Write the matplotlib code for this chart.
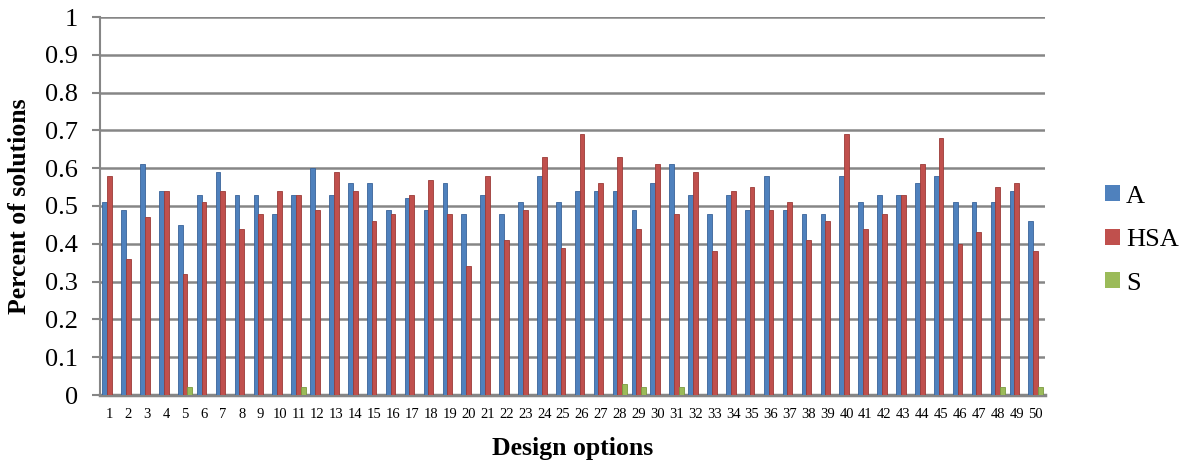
import matplotlib
matplotlib.use("Agg")
import matplotlib.pyplot as plt
from matplotlib.patches import Patch
import numpy as np

plt.rcParams['font.family'] = ['Liberation Serif', 'DejaVu Serif']

categories = [str(i) for i in range(1, 51)]
A = [0.51, 0.49, 0.61, 0.54, 0.45, 0.53, 0.59, 0.53, 0.53, 0.48,
     0.53, 0.60, 0.53, 0.56, 0.56, 0.49, 0.52, 0.49, 0.56, 0.48,
     0.53, 0.48, 0.51, 0.58, 0.51, 0.54, 0.54, 0.54, 0.49, 0.56,
     0.61, 0.53, 0.48, 0.53, 0.49, 0.58, 0.49, 0.48, 0.48, 0.58,
     0.51, 0.53, 0.53, 0.56, 0.58, 0.51, 0.51, 0.51, 0.54, 0.46]
HSA = [0.58, 0.36, 0.47, 0.54, 0.32, 0.51, 0.54, 0.44, 0.48, 0.54,
       0.53, 0.49, 0.59, 0.54, 0.46, 0.48, 0.53, 0.57, 0.48, 0.34,
       0.58, 0.41, 0.49, 0.63, 0.39, 0.69, 0.56, 0.63, 0.44, 0.61,
       0.48, 0.59, 0.38, 0.54, 0.55, 0.49, 0.51, 0.41, 0.46, 0.69,
       0.44, 0.48, 0.53, 0.61, 0.68, 0.40, 0.43, 0.55, 0.56, 0.38]
S = [0, 0, 0, 0, 0.02, 0, 0, 0, 0, 0,
     0.02, 0, 0, 0, 0, 0, 0, 0, 0, 0,
     0, 0, 0, 0, 0, 0, 0, 0.03, 0.02, 0,
     0.02, 0, 0, 0, 0, 0, 0, 0, 0, 0,
     0, 0, 0, 0, 0, 0, 0, 0.02, 0, 0.02]
y_ticks = [0, 0.1, 0.2, 0.3, 0.4, 0.5, 0.6, 0.7, 0.8, 0.9, 1]
y_tick_labels = ['0', '0.1', '0.2', '0.3', '0.4', '0.5', '0.6', '0.7', '0.8', '0.9', '1']
series_names = ['A', 'HSA', 'S']

colors = ['#4F81BD', '#C0504D', '#9BBB59']
edges = ['#3A6399', '#9C3B38', '#7A9A40']

W, H = 1185, 466
fig = plt.figure(figsize=(W / 100, H / 100), dpi=100)
ax = fig.add_axes([100 / W, (H - 395) / H, 945 / W, 378 / H])

x = np.arange(len(categories))
bw = 0.25
for i, (vals, c, ec) in enumerate(zip([A, HSA, S], colors, edges)):
    ax.bar(x + (i - 1) * bw, vals, width=bw, color=c, edgecolor=ec,
           linewidth=0.6, zorder=3)

ax.set_xlim(-0.5, len(categories) - 0.5)
ax.set_ylim(0, 1)
ax.set_yticks(y_ticks)
ax.set_yticklabels(y_tick_labels, fontsize=19)
ax.set_xticks(x)
ax.set_xticklabels(categories, fontsize=10.5)

grid_c = '#868686'
ax.yaxis.grid(True, color=grid_c, linewidth=1.8, zorder=0)
ax.set_axisbelow(True)
for s in ['top', 'right']:
    ax.spines[s].set_visible(False)
ax.spines['left'].set_color(grid_c)
ax.spines['left'].set_linewidth(1.5)
ax.spines['bottom'].set_color(grid_c)
ax.spines['bottom'].set_linewidth(2.5)
ax.tick_params(axis='y', direction='out', length=6, width=1.5, color=grid_c, pad=10)
ax.tick_params(axis='x', length=0, pad=9)

ax.set_ylabel('Percent of solutions', fontsize=18.5, fontweight='bold', labelpad=10)
ax.set_xlabel('Design options', fontsize=18.5, fontweight='bold', labelpad=12)

handles = [Patch(facecolor=c, edgecolor='none') for c in colors]
fig.legend(handles, series_names, loc='center left',
           bbox_to_anchor=(1105 / W, 1 - 240 / H), frameon=False,
           fontsize=19, handlelength=0.55, handleheight=0.55,
           handletextpad=0.25, labelspacing=0.8,
           borderpad=0, borderaxespad=0)

fig.savefig('out.png', dpi=100)
